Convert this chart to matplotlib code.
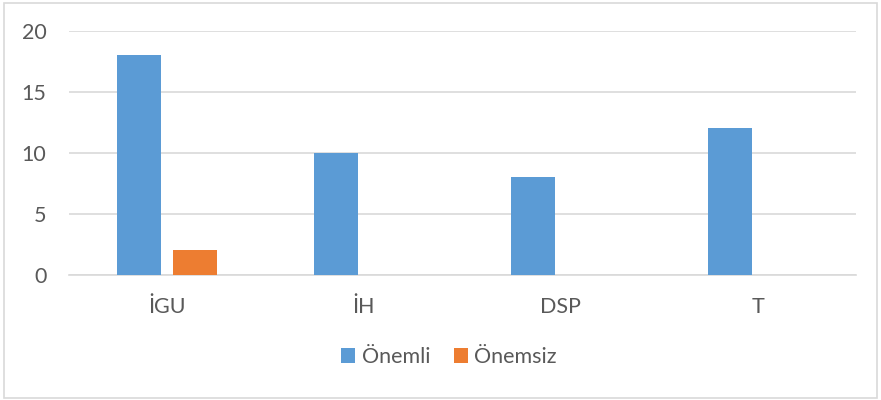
import matplotlib
matplotlib.use("Agg")
import matplotlib.pyplot as plt
import numpy as np
from matplotlib.patches import Rectangle

categories = ["İGU", "İH", "DSP", "T"]
onemli = [18, 10, 8, 12]
onemsiz = [2, 0, 0, 0]
yticks = [0, 5, 10, 15, 20]

plt.rcParams['font.family'] = ['Lato', 'DejaVu Sans']
txt = "#595959"

fig = plt.figure(figsize=(8.81, 4.0), dpi=100)
ax = fig.add_axes([68.5/881, 1-274.7/400, 787.5/881, 244/400])

x = np.arange(len(categories))
w = 44/197
gap = 12/197
ax.bar(x - (w+gap)/2, onemli, w, color="#5B9BD5", label="Önemli", zorder=3)
ax.bar(x + (w+gap)/2, onemsiz, w, color="#ED7D31", label="Önemsiz", zorder=3)

ax.set_xlim(-0.5, len(categories)-0.5)
ax.set_ylim(0, 20)
ax.set_yticks(yticks)
ax.set_xticks(x)
ax.set_xticklabels(categories)
ax.grid(axis="y", color="#D9D9D9", linewidth=1.2, zorder=0)
for s in ["top", "right", "left"]:
    ax.spines[s].set_visible(False)
ax.spines["bottom"].set_color("#D9D9D9")
ax.spines["bottom"].set_linewidth(1.2)
ax.tick_params(axis="both", length=0, labelsize=15.5, labelcolor=txt)
ax.tick_params(axis="y", pad=16)
ax.tick_params(axis="x", pad=16)

leg = fig.legend(loc="center", bbox_to_anchor=(449/881, 1-357/400), ncol=2, frameon=False,
                 fontsize=15.5, handlelength=0.65, handleheight=0.65, handletextpad=0.3,
                 columnspacing=1.1, labelcolor=txt)

fig.patches.append(Rectangle((4/881, 2/400), 873/881, 395/400, transform=fig.transFigure,
                             fill=False, edgecolor="#D9D9D9", linewidth=1.2))

fig.savefig("out.png", dpi=100, facecolor="white")
